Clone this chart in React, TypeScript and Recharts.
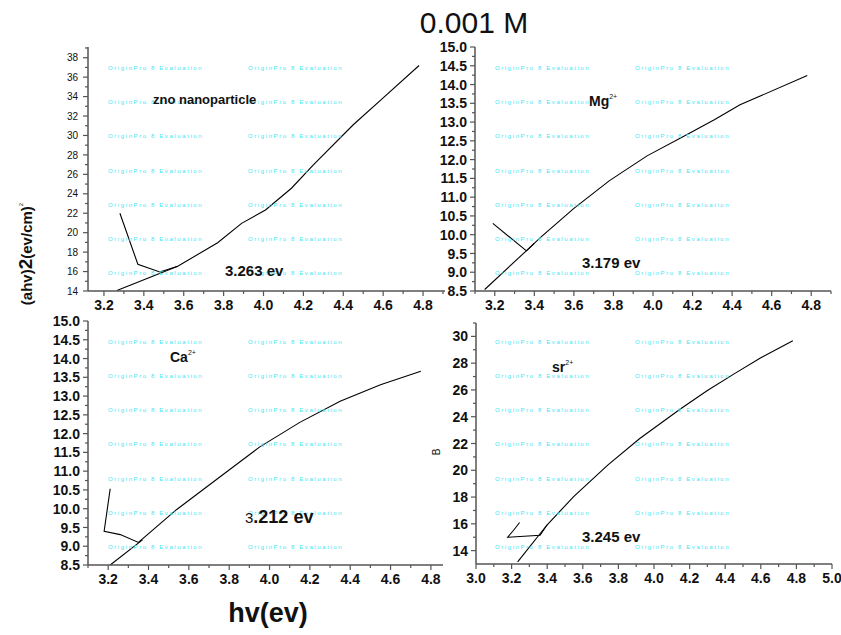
import React from 'react'
import { LineChart, Line, XAxis, YAxis } from 'recharts'

const W = 841
const H = 635
const FONT = '"Liberation Sans", Arial, sans-serif'
const AXIS = '#555'

// zno nanoparticle: measured curve + tangent line
const znoHv = [3.28, 3.37, 3.48, 3.57, 3.77, 3.89, 4.01, 4.14, 4.25, 4.45, 4.60, 4.78]
const znoAbs = [22.0, 16.75, 15.96, 16.55, 18.96, 20.96, 22.33, 24.57, 26.98, 31.1, 33.87, 37.2]
const znoFitHv = [3.265, 3.57]
const znoFitAbs = [14.05, 16.55]

// Mg2+
const mgHv = [3.19, 3.36, 3.43, 3.6, 3.78, 3.97, 4.17, 4.31, 4.44, 4.78]
const mgAbs = [10.3, 9.57, 9.92, 10.7, 11.44, 12.1, 12.66, 13.06, 13.46, 14.24]
const mgFitHv = [3.149, 3.4]
const mgFitAbs = [8.54, 9.77]

// Ca2+
const caHv = [3.21, 3.18, 3.26, 3.35, 3.54, 3.76, 3.95, 4.15, 4.35, 4.55, 4.75]
const caAbs = [10.53, 9.4, 9.31, 9.1, 9.98, 10.87, 11.64, 12.3, 12.86, 13.3, 13.66]
const caFitHv = [3.21, 3.37]
const caFitAbs = [8.5, 9.17]

// sr2+
const srHv = [3.245, 3.21, 3.178, 3.36, 3.4, 3.55, 3.74, 3.92, 4.15, 4.3, 4.45, 4.6, 4.78]
const srAbs = [16.1, 15.5, 15.0, 15.15, 15.93, 18.05, 20.39, 22.37, 24.6, 25.96, 27.2, 28.4, 29.68]
const srFitHv = [3.234, 3.4]
const srFitAbs = [13.16, 15.93]

const toPts = (xs: number[], ys: number[]) => xs.map((x, i) => ({ x, y: ys[i] }))

const steps = (a: number, b: number, s: number) => {
  const out: number[] = []
  for (let i = 0; a + i * s <= b + 1e-9; i++) out.push(+(a + i * s).toFixed(4))
  return out
}

const isMajor = (v: number, start: number, step: number) => {
  const k = (v - start) / step
  return Math.abs(k - Math.round(k)) < 1e-6
}

type AxisCfg = {
  domain: [number, number]
  minor: number
  major: number
  start: number
  dec: number
  size: number
  bold: boolean
}

const XTick = (props: any) => {
  const { x, y, payload, cfg } = props
  const v = payload.value
  const maj = isMajor(v, cfg.start, cfg.major)
  return (
    <g>
      <line x1={x} y1={y} x2={x} y2={y + (maj ? 5 : 3)} stroke={AXIS} strokeWidth={1.2} />
      {maj && (
        <text x={x} y={y + 18.5} textAnchor="middle" fontFamily={FONT} fontSize={cfg.size}
          fontWeight={cfg.bold ? 'bold' : 'normal'} fill="#111">
          {v.toFixed(cfg.dec)}
        </text>
      )}
    </g>
  )
}

const YTick = (props: any) => {
  const { x, y, payload, cfg } = props
  const v = payload.value
  const maj = isMajor(v, cfg.start, cfg.major)
  return (
    <g>
      <line x1={x} y1={y} x2={x - (maj ? 5 : 3)} y2={y} stroke={AXIS} strokeWidth={1.2} />
      {maj && (
        <text x={x - (cfg.bold ? 8 : 10)} y={y} dy="0.36em" textAnchor="end" fontFamily={FONT}
          fontSize={cfg.size} fontWeight={cfg.bold ? 'bold' : 'normal'} fill="#111">
          {v.toFixed(cfg.dec)}
        </text>
      )}
    </g>
  )
}

function Panel({ box, xa, ya, curve, fit }: { box: number[]; xa: AxisCfg; ya: AxisCfg; curve: any[]; fit: any[] }) {
  const [l, t, r, b] = box
  const xFirst = xa.start - Math.floor((xa.start - xa.domain[0]) / xa.minor + 1e-9) * xa.minor
  return (
    <div style={{ position: 'absolute', left: 0, top: 0 }}>
      <LineChart width={W} height={H} margin={{ left: l - 50, top: t, right: W - r, bottom: H - b - 30 }}>
        <XAxis type="number" dataKey="x" domain={xa.domain} ticks={steps(xFirst, xa.domain[1], xa.minor)}
          interval={0} height={30} axisLine={{ stroke: AXIS, strokeWidth: 1.5 }} tickLine={false}
          tickSize={0} tickMargin={0} tick={(p: any) => <XTick {...p} cfg={xa} />} />
        <YAxis type="number" dataKey="y" domain={ya.domain} ticks={steps(ya.start, ya.domain[1], ya.minor)}
          interval={0} width={50} axisLine={{ stroke: AXIS, strokeWidth: 1.5 }} tickLine={false}
          tickSize={0} tickMargin={0} tick={(p: any) => <YTick {...p} cfg={ya} />} />
        <Line data={curve} dataKey="y" type="linear" stroke="#000" strokeWidth={1.1} dot={false} isAnimationActive={false} />
        <Line data={fit} dataKey="y" type="linear" stroke="#000" strokeWidth={1.1} dot={false} isAnimationActive={false} />
      </LineChart>
    </div>
  )
}

const wmRowsTop = [68, 102, 136, 171, 205, 239, 273]
const wmRowsBottom = [342, 376, 410, 444, 479, 513, 547]
const wmColsLeft = [108, 248]
const wmColsRight = [495, 635]

const Watermarks = ({ rows, cols }: { rows: number[]; cols: number[] }) => (
  <>
    {rows.flatMap((ry) =>
      cols.map((cx) => (
        <text key={`${cx}-${ry}`} x={cx} y={ry} dy="0.35em" fontFamily={FONT} fontSize={6}
          letterSpacing={1.6} fill="#3fe6f5">
          OriginPro 8 Evaluation
        </text>
      ))
    )}
  </>
)

export default function App() {
  const bold14 = { fontFamily: FONT, fontWeight: 'bold' as const, fill: '#111' }
  return (
    <div style={{ position: 'absolute', left: 0, top: 0, width: W, height: H, background: '#fff' }}>
      <Panel box={[88, 47, 445, 291]} curve={toPts(znoHv, znoAbs)} fit={toPts(znoFitHv, znoFitAbs)}
        xa={{ domain: [3.12, 4.91], minor: 0.1, major: 0.2, start: 3.2, dec: 1, size: 14, bold: true }}
        ya={{ domain: [14, 39.1], minor: 1, major: 2, start: 14, dec: 0, size: 10, bold: false }} />
      <Panel box={[475, 47, 831, 291]} curve={toPts(mgHv, mgAbs)} fit={toPts(mgFitHv, mgFitAbs)}
        xa={{ domain: [3.1, 4.9], minor: 0.1, major: 0.2, start: 3.2, dec: 1, size: 14, bold: true }}
        ya={{ domain: [8.5, 15], minor: 0.25, major: 0.5, start: 8.5, dec: 1, size: 14, bold: true }} />
      <Panel box={[88, 321, 443, 565]} curve={toPts(caHv, caAbs)} fit={toPts(caFitHv, caFitAbs)}
        xa={{ domain: [3.1, 4.86], minor: 0.1, major: 0.2, start: 3.2, dec: 1, size: 14, bold: true }}
        ya={{ domain: [8.5, 15], minor: 0.25, major: 0.5, start: 8.5, dec: 1, size: 14, bold: true }} />
      <Panel box={[476, 323, 832, 564]} curve={toPts(srHv, srAbs)} fit={toPts(srFitHv, srFitAbs)}
        xa={{ domain: [3, 5], minor: 0.1, major: 0.2, start: 3, dec: 1, size: 14, bold: true }}
        ya={{ domain: [13, 31], minor: 1, major: 2, start: 14, dec: 0, size: 14, bold: true }} />

      <svg width={W} height={H} style={{ position: 'absolute', left: 0, top: 0, pointerEvents: 'none' }}>
        <Watermarks rows={wmRowsTop} cols={wmColsLeft} />
        <Watermarks rows={wmRowsTop} cols={wmColsRight} />
        <Watermarks rows={wmRowsBottom} cols={wmColsLeft} />
        <Watermarks rows={wmRowsBottom} cols={wmColsRight} />

        <text x={474} y={33} textAnchor="middle" fontFamily={FONT} fontSize={30} fill="#111">0.001 M</text>

        <text x={153} y={104} fontSize={13} {...bold14}>zno nanoparticle</text>
        <text x={225} y={276} fontSize={15} {...bold14}>3.263 ev</text>

        <text x={589} y={106} fontSize={14} {...bold14}>Mg<tspan fontSize={7} dy={-7} fontWeight="normal">2+</tspan></text>
        <text x={582} y={268} fontSize={15} {...bold14}>3.179 ev</text>

        <text x={170} y={362} fontSize={14} {...bold14}>Ca<tspan fontSize={7} dy={-7} fontWeight="normal">2+</tspan></text>
        <text x={245} y={523} fontFamily={FONT} fill="#111"><tspan fontSize={15}>3</tspan><tspan fontSize={18} fontWeight="bold">.212 ev</tspan></text>

        <text x={552} y={372} fontSize={14} {...bold14}>sr<tspan fontSize={7} dy={-7} fontWeight="normal">2+</tspan></text>
        <text x={582} y={542} fontSize={15} {...bold14}>3.245 ev</text>

        <text transform="translate(440,452) rotate(-90)" textAnchor="middle" fontFamily={FONT} fontSize={10} fill="#111">B</text>

        <text transform="translate(32,254) rotate(-90)" textAnchor="middle" fontFamily={FONT} fontWeight="bold" fill="#111">
          <tspan fontSize={15}>(ahv)</tspan>
          <tspan fontSize={19}>2</tspan>
          <tspan fontSize={15}>(ev/cm)</tspan>
          <tspan fontSize={6} dy={-9} fontWeight="normal">2</tspan>
        </text>

        <text x={268} y={622} textAnchor="middle" fontFamily={FONT} fontWeight="bold" fontSize={27} fill="#111">hv(ev)</text>
      </svg>
    </div>
  )
}
